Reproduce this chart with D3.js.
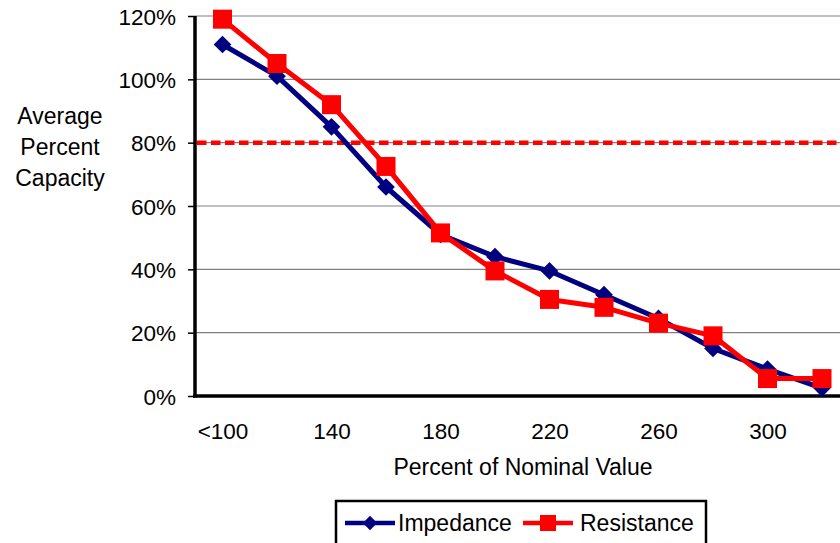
<!DOCTYPE html>
<html>
<head>
<meta charset="utf-8">
<script src="https://cdn.jsdelivr.net/npm/d3@7"></script>
<style>
  body { margin: 0; background: #fff; }
  text { font-family: "Liberation Sans", Arial, sans-serif; fill: #000; }
</style>
</head>
<body>
<div id="chart"></div>
<script>
let width = 840, height = 543;

// Data
const categories = [100, 120, 140, 160, 180, 200, 220, 240, 260, 280, 300, 320];
const labelValues = [100, 140, 180, 220, 260, 300];
const impedance = [111, 101, 85, 66, 51, 44, 39.5, 32, 24.5, 15, 8.5, 2.5];
const resistance = [119, 105, 92, 72.5, 51.5, 39.5, 30.5, 28, 23, 19, 5.5, 5.5];
const yTicks = [0, 20, 40, 60, 80, 100, 120];
const threshold = 80;

let svg = d3.select("#chart").append("svg")
  .attr("width", width)
  .attr("height", height);

let x = d3.scalePoint().domain(categories).range([222.5, 822]);
let y = d3.scaleLinear().domain([0, 120]).range([396, 16]);

// gridlines
svg.append("g")
  .selectAll("line")
  .data(yTicks.filter(d => d > 0))
  .enter().append("line")
  .attr("x1", 195).attr("x2", width)
  .attr("y1", d => y(d)).attr("y2", d => y(d))
  .attr("stroke", "#808080")
  .attr("stroke-width", 1.2);

// y axis
let yAxis = svg.append("g")
  .attr("transform", "translate(195,0)")
  .call(d3.axisLeft(y).tickValues(yTicks).tickSize(7).tickPadding(12).tickFormat(d => d + "%"));
yAxis.select(".domain").remove();
yAxis.selectAll(".tick line").attr("stroke", "#000").attr("stroke-width", 1.5);
yAxis.selectAll("text").style("font-size", "22.5px").attr("dy", "0.36em");

// x axis labels
let xAxis = svg.append("g")
  .attr("transform", "translate(0,396)")
  .call(d3.axisBottom(x).tickValues(labelValues).tickSize(0).tickPadding(27)
    .tickFormat(d => d === 100 ? "<100" : d));
xAxis.select(".domain").remove();
xAxis.selectAll("text").style("font-size", "22.5px").attr("dy", "0.71em");

// axis lines
svg.append("line")
  .attr("x1", 195).attr("x2", 195).attr("y1", y(120)).attr("y2", y(0) + 1.5)
  .attr("stroke", "#000").attr("stroke-width", 3.5);
svg.append("line")
  .attr("x1", 193).attr("x2", width).attr("y1", y(0)).attr("y2", y(0))
  .attr("stroke", "#000").attr("stroke-width", 3.5);

// 80% threshold
svg.append("line")
  .attr("x1", 197).attr("x2", width)
  .attr("y1", y(threshold)).attr("y2", y(threshold))
  .attr("stroke", "#ff0000")
  .attr("stroke-width", 4.5)
  .attr("stroke-dasharray", "9.5,4.5");

// axis titles
svg.append("text")
  .attr("x", 523).attr("y", 475)
  .attr("text-anchor", "middle")
  .style("font-size", "23px")
  .text("Percent of Nominal Value");

let yTitle = svg.append("text")
  .attr("text-anchor", "middle")
  .style("font-size", "23px");
["Average", "Percent", "Capacity"].forEach((t, i) => {
  yTitle.append("tspan").attr("x", 60).attr("y", 124 + i * 31).text(t);
});

// series
let line = d3.line().x((d, i) => x(categories[i])).y(d => y(d));
let diamond = d3.symbol().type(d3.symbolDiamond2).size(200);

let series = [
  { name: "Impedance", values: impedance, color: "#000080", marker: "diamond" },
  { name: "Resistance", values: resistance, color: "#ff0000", marker: "square" }
];

series.forEach(s => {
  svg.append("path")
    .datum(s.values)
    .attr("fill", "none")
    .attr("stroke", s.color)
    .attr("stroke-width", 5)
    .attr("stroke-linejoin", "round")
    .attr("d", line);

  if (s.marker == "diamond") {
    svg.append("g").selectAll("path")
      .data(s.values)
      .enter().append("path")
      .attr("d", diamond)
      .attr("transform", (d, i) => "translate(" + x(categories[i]) + "," + y(d) + ")")
      .attr("fill", s.color);
  } else {
    svg.append("g").selectAll("rect")
      .data(s.values)
      .enter().append("rect")
      .attr("x", (d, i) => x(categories[i]) - 9.5)
      .attr("y", d => y(d) - 9.5)
      .attr("width", 19).attr("height", 19)
      .attr("fill", s.color);
  }
});

// Legend
let legend = svg.append("g");
legend.append("rect")
  .attr("x", 336).attr("y", 501)
  .attr("width", 370).attr("height", 46)
  .attr("fill", "#fff")
  .attr("stroke", "#000")
  .attr("stroke-width", 2.5);

let legendItems = [
  { s: series[0], x0: 345, tx: 398 },
  { s: series[1], x0: 523, tx: 580 }
];
legendItems.forEach(item => {
  let cy = 523;
  legend.append("line")
    .attr("x1", item.x0).attr("x2", item.x0 + 50)
    .attr("y1", cy).attr("y2", cy)
    .attr("stroke", item.s.color).attr("stroke-width", 4.5);
  if (item.s.marker == "diamond") {
    legend.append("path")
      .attr("d", d3.symbol().type(d3.symbolDiamond2).size(130))
      .attr("transform", "translate(" + (item.x0 + 25) + "," + cy + ")")
      .attr("fill", item.s.color);
  } else {
    legend.append("rect")
      .attr("x", item.x0 + 25 - 8).attr("y", cy - 8)
      .attr("width", 16).attr("height", 16)
      .attr("fill", item.s.color);
  }
  legend.append("text")
    .attr("x", item.tx).attr("y", cy + 8)
    .style("font-size", "23px")
    .text(item.s.name);
});
</script>
</body>
</html>
